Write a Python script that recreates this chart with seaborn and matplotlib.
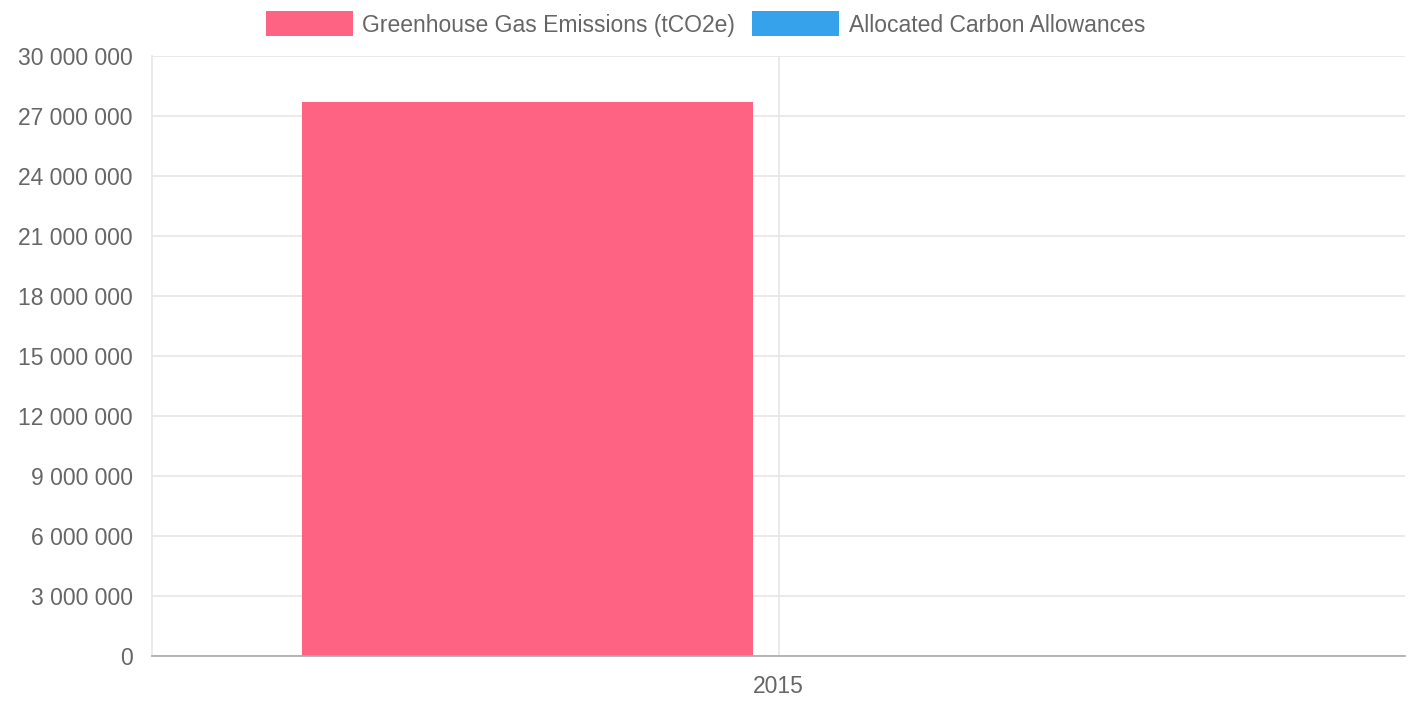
"""
Emissions vs allocated allowances, single year bar chart.
"""

import matplotlib.pyplot as plt
import matplotlib.ticker as mticker
import pandas as pd
import seaborn as sns


YEARS = ["2015", "2015"]
SERIES = ["Greenhouse Gas Emissions (tCO2e)", "Allocated Carbon Allowances"]
VALUES = [27700000, 0]
COLORS = ["#ff6384", "#36a2eb"]
Y_TICKS = list(range(0, 30000001, 3000000))

TEXT_COLOR = "#666666"
GRID_COLOR = "#e6e6e6"
FONT_SIZE = 16.5


def main() -> None:
    sns.set_style("white")
    plt.rcParams["font.family"] = ["Liberation Sans", "DejaVu Sans"]

    df = pd.DataFrame({"year": YEARS, "series": SERIES, "value": VALUES})

    fig = plt.figure(figsize=(14.11, 7.04), dpi=100)
    ax = fig.add_axes([152 / 1411, 48 / 704, 1253 / 1411, 600 / 704])

    sns.barplot(
        data=df, x="year", y="value", hue="series", hue_order=SERIES,
        palette=COLORS, saturation=1, width=0.8, gap=0.1,
        linewidth=0, ax=ax,
    )

    ax.set_xlim(-0.5, 0.5)
    ax.set_ylim(0, 30000000)
    ax.set_yticks(Y_TICKS)
    ax.yaxis.set_major_formatter(
        mticker.FuncFormatter(lambda v, _: f"{int(v):,}".replace(",", " "))
    )
    ax.set_xlabel("")
    ax.set_ylabel("")

    # Chart.js style grid and ticks
    ax.set_axisbelow(True)
    ax.grid(True, axis="both", color=GRID_COLOR, linewidth=1.2)
    ax.tick_params(axis="y", colors=GRID_COLOR, labelcolor=TEXT_COLOR,
                   labelsize=FONT_SIZE, length=12, width=1.2, pad=2)
    ax.tick_params(axis="x", colors=GRID_COLOR, labelcolor=TEXT_COLOR,
                   labelsize=FONT_SIZE, length=8, width=1.2, pad=6)
    for side in ("top", "right"):
        ax.spines[side].set_visible(False)
    ax.spines["left"].set_color(GRID_COLOR)
    ax.spines["left"].set_linewidth(1.2)
    ax.spines["bottom"].set_color("#aaaaaa")
    ax.spines["bottom"].set_linewidth(1.2)

    handles, labels = ax.get_legend_handles_labels()
    ax.get_legend().remove()
    fig.legend(
        handles, labels, loc="center", bbox_to_anchor=(0.5, 1 - 24 / 704),
        ncol=2, frameon=False, fontsize=FONT_SIZE, labelcolor=TEXT_COLOR,
        handlelength=3.8, handleheight=1.3, handletextpad=0.4,
        columnspacing=0.75, borderpad=0,
    )

    fig.savefig("out.png", dpi=100, facecolor="white")
    plt.close(fig)


if __name__ == "__main__":
    main()
